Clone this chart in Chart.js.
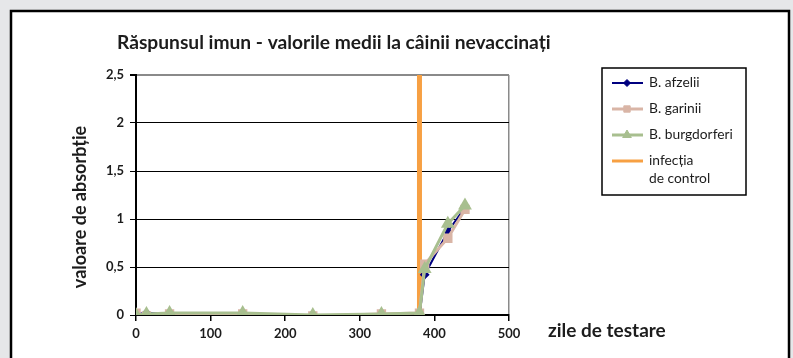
<!DOCTYPE html>
<html>
<head>
<meta charset="utf-8">
<script src="https://cdn.jsdelivr.net/npm/chart.js@4.4.1/dist/chart.umd.min.js"></script>
<style>
  html, body { margin: 0; padding: 0; background: #e6e7e9; }
  #wrap { width: 793px; height: 358px; }
</style>
</head>
<body>
<div id="wrap"><canvas id="chart" width="793" height="358"></canvas></div>
<script>
const TITLE = "Răspunsul imun - valorile medii la câinii nevaccinați";
const Y_TITLE = "valoare de absorbție";
const X_TITLE = "zile de testare";

const days = [0, 14, 45, 143, 237, 329, 380, 387, 418, 441];
const afzelii = [0.01, 0.02, 0.01, 0.01, -0.02, 0.01, -0.01, 0.42, 0.87, 1.12];
const garinii = [0.02, -0.01, 0.01, 0.01, -0.01, 0.01, 0.02, 0.53, 0.80, 1.10];
const burgdorferi = [0.0, 0.01, 0.02, 0.02, 0.0, 0.01, 0.02, 0.48, 0.95, 1.14];
const infectionDay = 380;
const yTicks = [0, 0.5, 1, 1.5, 2, 2.5];
const xTicks = [0, 100, 200, 300, 400, 500];

const FONT = "Lato, 'Open Sans', sans-serif";
const INK = "#1c1c1c";

function pts(ys) {
  return days.map((d, i) => ({ x: d, y: ys[i] }));
}

// pick a font size so the text spans roughly the width seen in the picture
function fitFont(ctx, text, weight, width) {
  ctx.font = weight + " 100px " + FONT;
  const size = (100 * width) / ctx.measureText(text).width;
  return weight + " " + size.toFixed(1) + "px " + FONT;
}

const datasets = [
  {
    label: "B. afzelii",
    data: pts(afzelii),
    borderColor: "#000080",
    backgroundColor: "#000080",
    borderWidth: 2,
    pointStyle: "rectRot",
    pointRadius: 3.5,
    showLine: true,
    order: 3,
  },
  {
    label: "B. garinii",
    data: pts(garinii),
    borderColor: "#d9b5a6",
    backgroundColor: "#d9b5a6",
    borderWidth: 3,
    pointStyle: "rect",
    pointRadius: 4.5,
    showLine: true,
    order: 2,
  },
  {
    label: "B. burgdorferi",
    data: pts(burgdorferi),
    borderColor: "#a8bf8f",
    backgroundColor: "#a8bf8f",
    borderWidth: 3,
    pointStyle: "triangle",
    pointRadius: 5,
    showLine: true,
    order: 1,
  },
  {
    label: ["infecția", "de control"],
    data: [{ x: infectionDay, y: 0 }, { x: infectionDay, y: 2.5 }],
    borderColor: "#f7a043",
    backgroundColor: "#f7a043",
    borderWidth: 5,
    pointRadius: 0,
    showLine: true,
    order: 4,
  },
];

const decor = {
  id: "decor",
  beforeDraw(chart) {
    const ctx = chart.ctx;
    ctx.save();
    ctx.fillStyle = "#e6e7e9";
    ctx.fillRect(0, 0, 793, 358);
    ctx.fillStyle = "#ffffff";
    ctx.fillRect(11, 11, 778, 360);
    ctx.strokeStyle = "#000";
    ctx.lineWidth = 2.5;
    ctx.strokeRect(11, 11, 778, 360);
    ctx.restore();
  },
  afterDraw(chart) {
    const ctx = chart.ctx;
    ctx.save();
    ctx.fillStyle = INK;
    ctx.textBaseline = "middle";
    ctx.textAlign = "left";

    ctx.font = fitFont(ctx, TITLE, "bold", 433);
    ctx.fillText(TITLE, 117, 43);

    ctx.font = fitFont(ctx, X_TITLE, "bold", 118);
    ctx.fillText(X_TITLE, 548, 331);

    ctx.save();
    ctx.translate(80, 207);
    ctx.rotate(-Math.PI / 2);
    ctx.textAlign = "center";
    ctx.font = fitFont(ctx, Y_TITLE, "bold", 162);
    ctx.fillText(Y_TITLE, 0, 0);
    ctx.restore();

    // legend
    ctx.strokeStyle = "#000";
    ctx.lineWidth = 1.5;
    ctx.strokeRect(602, 68, 144, 127);
    const rows = [83, 109, 135, 161];
    const legendFont = fitFont(ctx, "B. burgdorferi", "normal", 84);
    chart.data.datasets.forEach((ds, i) => {
      const y = rows[i];
      ctx.strokeStyle = ds.borderColor;
      ctx.lineWidth = i === 0 ? 2 : 3;
      ctx.beginPath();
      ctx.moveTo(612, y);
      ctx.lineTo(643, y);
      ctx.stroke();
      if (ds.pointRadius) {
        ctx.fillStyle = ds.backgroundColor;
        ctx.lineWidth = 1;
        Chart.helpers.drawPoint(ctx, { pointStyle: ds.pointStyle, radius: ds.pointRadius, rotation: 0, borderWidth: 1 }, 627, y);
      }
      ctx.fillStyle = INK;
      ctx.textAlign = "left";
      ctx.font = legendFont;
      const lines = Array.isArray(ds.label) ? ds.label : [ds.label];
      lines.forEach((t, k) => ctx.fillText(t, 649, y + k * 18));
    });
    ctx.restore();
  },
};

new Chart(document.getElementById("chart"), {
  type: "scatter",
  data: { datasets },
  plugins: [decor],
  options: {
    responsive: false,
    animation: false,
    layout: { padding: { left: 0, top: 75, right: 284, bottom: 0 } },
    plugins: { legend: { display: false }, title: { display: false }, tooltip: { enabled: false } },
    scales: {
      x: {
        type: "linear",
        min: 0,
        max: 500,
        afterFit(scale) { scale.height = 43; },
        afterBuildTicks(scale) { scale.ticks = xTicks.map((v) => ({ value: v })); },
        ticks: { color: INK, font: { family: FONT, size: 13, weight: "bold" }, padding: 5 },
        grid: {
          color: (c) => (c.tick && c.tick.value === 500 ? "#8a8a8a" : "rgba(0,0,0,0)"),
          tickColor: "#000",
          tickLength: 6,
          lineWidth: 1.5,
        },
        border: { color: "#000", width: 2 },
      },
      y: {
        min: 0,
        max: 2.5,
        afterFit(scale) { scale.width = 136; },
        afterBuildTicks(scale) { scale.ticks = yTicks.map((v) => ({ value: v })); },
        ticks: {
          color: INK,
          font: { family: FONT, size: 13, weight: "bold" },
          padding: 6,
          callback: (v) => String(v).replace(".", ","),
        },
        grid: {
          color: (c) => (c.tick && c.tick.value === 2.5 ? "#8a8a8a" : "#000"),
          tickColor: "#000",
          tickLength: 6,
          lineWidth: (c) => (c.tick && c.tick.value === 2.5 ? 2 : 1),
        },
        border: { color: "#000", width: 2 },
      },
    },
  },
});
</script>
</body>
</html>
